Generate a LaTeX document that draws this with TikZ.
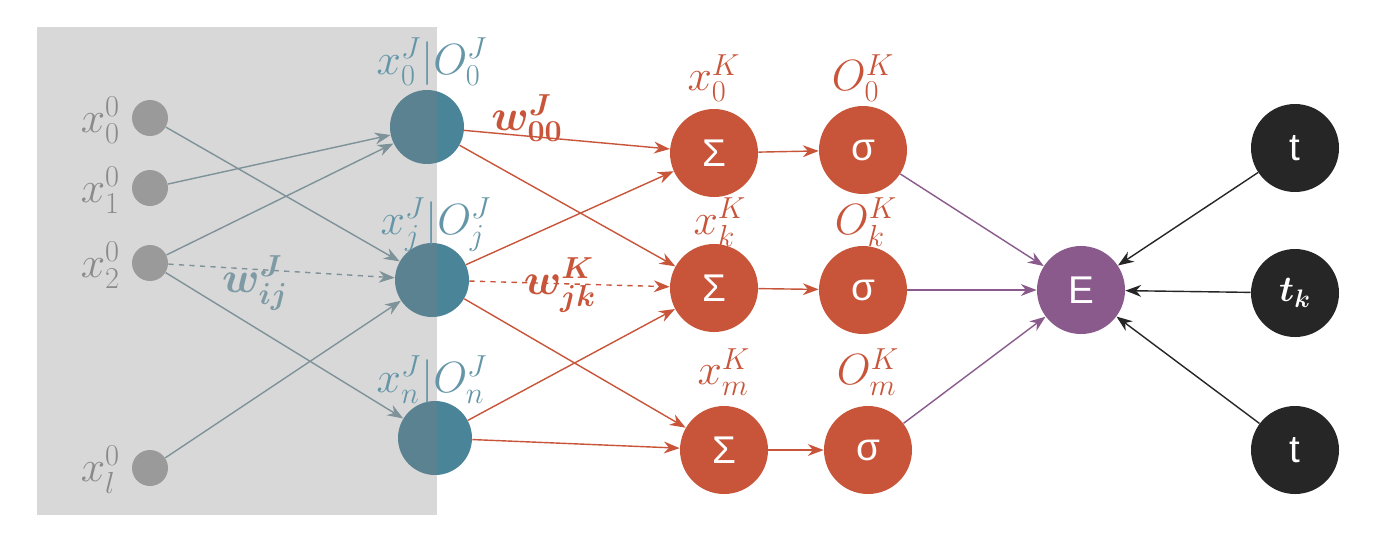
\documentclass[tikz,border=0pt]{standalone}
\usepackage{fontspec}
\setmainfont{Liberation Sans}
\usepackage{amsmath,bm}
\usetikzlibrary{arrows.meta}
\definecolor{gb}{HTML}{7E9AA4}
\definecolor{teal}{HTML}{4A8499}
\definecolor{org}{HTML}{C8553A}
\definecolor{pur}{HTML}{8B5A8C}
\definecolor{lab}{HTML}{8A8A8A}
\begin{document}
\begin{tikzpicture}[x=0.02cm,y=-0.02cm,
 inp/.style={circle,fill=gray!70,minimum size=36*0.02cm,inner sep=0},
 jn/.style={circle,fill=teal,minimum size=74*0.02cm,inner sep=0},
 on/.style={circle,fill=org,minimum size=88*0.02cm,inner sep=0,text=white,font=\fontsize{22}{26}\selectfont},
 tn/.style={circle,fill=black!85,minimum size=88*0.02cm,inner sep=0,text=white,font=\fontsize{22}{26}\selectfont},
 ge/.style={gb,thick,-{Stealth[length=9pt]}},
 oe/.style={org,thick,-{Stealth[length=9pt]}},
 lb/.style={font=\fontsize{27}{30}\selectfont,inner sep=1pt},
 arr/.style={-{Stealth[length=9pt]}}]
\useasboundingbox (0,0) rectangle (1379,539);
\fill[white] (0,0) rectangle (1379,539);
% nodes
\node[inp] (i0) at (150,118) {};
\node[inp] (i1) at (150,188) {};
\node[inp] (i2) at (150,263) {};
\node[inp] (il) at (150,468) {};
\node[jn] (j0) at (427,127) {};
\node[jn] (jj) at (432,280) {};
\node[jn] (jn) at (435,438) {};
\node[on] (s0) at (714,153) {Σ};
\node[on] (sk) at (714,288) {Σ};
\node[on] (sm) at (724,450) {Σ};
\node[on] (g0) at (863,150) {σ};
\node[on] (gk) at (863,290) {σ};
\node[on] (gm) at (868,450) {σ};
\node[on,fill=pur] (E) at (1081,290) {E};
\node[tn] (t0) at (1295,148) {t};
\node[tn] (tk) at (1295,293) {$\bm{t_k}$};
\node[tn] (t2) at (1295,450) {t};
% edges input->J
\draw[ge] (i0) -- (jj);
\draw[ge] (i1) -- (j0);
\draw[ge] (i2) -- (j0);
\draw[ge,dashed] (i2) -- (jj);
\draw[ge] (i2) -- (jn);
\draw[ge] (il) -- (jj);
% J->K
\draw[oe] (j0) -- (s0);
\draw[oe] (j0) -- (sk);
\draw[oe] (jj) -- (s0);
\draw[oe,dashed] (jj) -- (sk);
\draw[oe] (jj) -- (sm);
\draw[oe] (jn) -- (sk);
\draw[oe] (jn) -- (sm);
\draw[oe] (s0) -- (g0);
\draw[oe] (sk) -- (gk);
\draw[oe] (sm) -- (gm);
\draw[pur,thick,arr] (g0) -- (E);
\draw[pur,thick,arr] (gk) -- (E);
\draw[pur,thick,arr] (gm) -- (E);
\draw[black!85,thick,arr] (t0) -- (E);
\draw[black!85,thick,arr] (tk) -- (E);
\draw[black!85,thick,arr] (t2) -- (E);
% gray overlay
\fill[gray,opacity=0.3] (37,27) rectangle (437,515);
% labels
\begin{scope}[lb,lab]
\node[anchor=east] at (122,120) {$x_0^0$};
\node[anchor=east] at (122,190) {$x_1^0$};
\node[anchor=east] at (122,265) {$x_2^0$};
\node[anchor=east] at (122,470) {$x_l^0$};
\node[gb] at (255,283) {$\bm{w_{ij}^J}$};
\end{scope}
\begin{scope}[lb,teal!85]
\node at (432,62) {$x_0^J|O_0^J$};
\node at (436,225) {$x_j^J|O_j^J$};
\node at (432,380) {$x_n^J|O_n^J$};
\end{scope}
\begin{scope}[lb,org]
\node at (527,118) {$\bm{w_{00}^J}$};
\node at (560,285) {$\bm{w_{jk}^K}$};
\node at (714,78) {$x_0^K$};
\node at (863,78) {$O_0^K$};
\node at (720,222) {$x_k^K$};
\node at (866,222) {$O_k^K$};
\node at (724,372) {$x_m^K$};
\node at (868,372) {$O_m^K$};
\end{scope}
\end{tikzpicture}
\end{document}
